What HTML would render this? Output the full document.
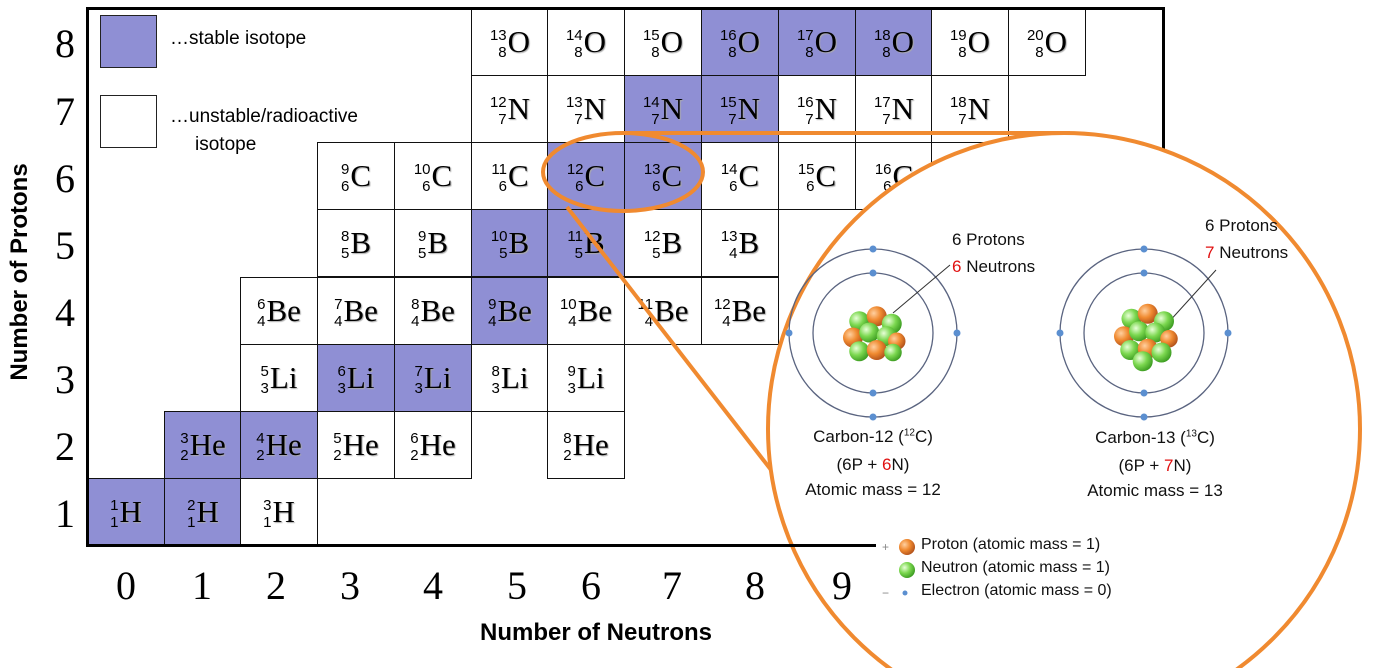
<!DOCTYPE html>
<html><head><meta charset="utf-8">
<style>
body{margin:0;background:#fff;}
#w{position:relative;width:1380px;height:668px;overflow:hidden;background:#fff;font-family:"Liberation Sans",sans-serif;}
.c{position:absolute;width:78px;height:68px;border:1.5px solid #111;box-sizing:border-box;display:flex;align-items:center;justify-content:center;background:#fff;}
.b{background:#8f8fd4;}
.s{display:inline-flex;flex-direction:column;align-items:flex-end;font-size:15px;line-height:17px;margin-right:1px;margin-top:3px;}
.e{font-family:"Liberation Serif",serif;font-size:31px;text-shadow:1px 1px 1px #aaa;}
.yn{position:absolute;left:50px;width:30px;text-align:center;font-family:"Liberation Serif",serif;font-size:40px;}
.xn{position:absolute;top:562px;width:40px;text-align:center;font-family:"Liberation Serif",serif;font-size:40px;}
.t{position:absolute;font-size:17px;color:#111;white-space:nowrap;}
.r{color:#e01010;}
</style></head><body><div id="w">

<!-- legend -->
<div style="position:absolute;left:100px;top:15px;width:57px;height:53px;background:#8f8fd4;border:1.5px solid #222;box-sizing:border-box"></div>
<div style="position:absolute;left:100px;top:95px;width:57px;height:53px;background:#fff;border:1.5px solid #222;box-sizing:border-box"></div>
<div style="position:absolute;left:170px;top:28px;font-size:19px">…stable isotope</div>
<div style="position:absolute;left:170px;top:106px;font-size:19px">…unstable/radioactive</div>
<div style="position:absolute;left:195px;top:134px;font-size:19px">isotope</div>

<!-- row 8 -->
<div class="c" style="left:471px;top:8px"><span class="s"><span>13</span><span>8</span></span><span class="e">O</span></div>
<div class="c" style="left:547px;top:8px"><span class="s"><span>14</span><span>8</span></span><span class="e">O</span></div>
<div class="c" style="left:624px;top:8px"><span class="s"><span>15</span><span>8</span></span><span class="e">O</span></div>
<div class="c b" style="left:701px;top:8px"><span class="s"><span>16</span><span>8</span></span><span class="e">O</span></div>
<div class="c b" style="left:778px;top:8px"><span class="s"><span>17</span><span>8</span></span><span class="e">O</span></div>
<div class="c b" style="left:855px;top:8px"><span class="s"><span>18</span><span>8</span></span><span class="e">O</span></div>
<div class="c" style="left:931px;top:8px"><span class="s"><span>19</span><span>8</span></span><span class="e">O</span></div>
<div class="c" style="left:1008px;top:8px"><span class="s"><span>20</span><span>8</span></span><span class="e">O</span></div>
<!-- row 7 -->
<div class="c" style="left:471px;top:75px"><span class="s"><span>12</span><span>7</span></span><span class="e">N</span></div>
<div class="c" style="left:547px;top:75px"><span class="s"><span>13</span><span>7</span></span><span class="e">N</span></div>
<div class="c b" style="left:624px;top:75px"><span class="s"><span>14</span><span>7</span></span><span class="e">N</span></div>
<div class="c b" style="left:701px;top:75px"><span class="s"><span>15</span><span>7</span></span><span class="e">N</span></div>
<div class="c" style="left:778px;top:75px"><span class="s"><span>16</span><span>7</span></span><span class="e">N</span></div>
<div class="c" style="left:855px;top:75px"><span class="s"><span>17</span><span>7</span></span><span class="e">N</span></div>
<div class="c" style="left:931px;top:75px"><span class="s"><span>18</span><span>7</span></span><span class="e">N</span></div>
<!-- row 6 -->
<div class="c" style="left:317px;top:142px"><span class="s"><span>9</span><span>6</span></span><span class="e">C</span></div>
<div class="c" style="left:394px;top:142px"><span class="s"><span>10</span><span>6</span></span><span class="e">C</span></div>
<div class="c" style="left:471px;top:142px"><span class="s"><span>11</span><span>6</span></span><span class="e">C</span></div>
<div class="c b" style="left:547px;top:142px"><span class="s"><span>12</span><span>6</span></span><span class="e">C</span></div>
<div class="c b" style="left:624px;top:142px"><span class="s"><span>13</span><span>6</span></span><span class="e">C</span></div>
<div class="c" style="left:701px;top:142px"><span class="s"><span>14</span><span>6</span></span><span class="e">C</span></div>
<div class="c" style="left:778px;top:142px"><span class="s"><span>15</span><span>6</span></span><span class="e">C</span></div>
<div class="c" style="left:855px;top:142px"><span class="s"><span>16</span><span>6</span></span><span class="e">C</span></div>
<div class="c" style="left:931px;top:142px;border-bottom:none;border-right:none"></div>
<!-- row 5 -->
<div class="c" style="left:317px;top:209px"><span class="s"><span>8</span><span>5</span></span><span class="e">B</span></div>
<div class="c" style="left:394px;top:209px"><span class="s"><span>9</span><span>5</span></span><span class="e">B</span></div>
<div class="c b" style="left:471px;top:209px"><span class="s"><span>10</span><span>5</span></span><span class="e">B</span></div>
<div class="c b" style="left:547px;top:209px"><span class="s"><span>11</span><span>5</span></span><span class="e">B</span></div>
<div class="c" style="left:624px;top:209px"><span class="s"><span>12</span><span>5</span></span><span class="e">B</span></div>
<div class="c" style="left:701px;top:209px"><span class="s"><span>13</span><span>4</span></span><span class="e">B</span></div>
<!-- row 4 -->
<div class="c" style="left:240px;top:277px"><span class="s"><span>6</span><span>4</span></span><span class="e">Be</span></div>
<div class="c" style="left:317px;top:277px"><span class="s"><span>7</span><span>4</span></span><span class="e">Be</span></div>
<div class="c" style="left:394px;top:277px"><span class="s"><span>8</span><span>4</span></span><span class="e">Be</span></div>
<div class="c b" style="left:471px;top:277px"><span class="s"><span>9</span><span>4</span></span><span class="e">Be</span></div>
<div class="c" style="left:547px;top:277px"><span class="s"><span>10</span><span>4</span></span><span class="e">Be</span></div>
<div class="c" style="left:624px;top:277px"><span class="s"><span>11</span><span>4</span></span><span class="e">Be</span></div>
<div class="c" style="left:701px;top:277px"><span class="s"><span>12</span><span>4</span></span><span class="e">Be</span></div>
<!-- row 3 -->
<div class="c" style="left:240px;top:344px"><span class="s"><span>5</span><span>3</span></span><span class="e">Li</span></div>
<div class="c b" style="left:317px;top:344px"><span class="s"><span>6</span><span>3</span></span><span class="e">Li</span></div>
<div class="c b" style="left:394px;top:344px"><span class="s"><span>7</span><span>3</span></span><span class="e">Li</span></div>
<div class="c" style="left:471px;top:344px"><span class="s"><span>8</span><span>3</span></span><span class="e">Li</span></div>
<div class="c" style="left:547px;top:344px"><span class="s"><span>9</span><span>3</span></span><span class="e">Li</span></div>
<!-- row 2 -->
<div class="c b" style="left:164px;top:411px"><span class="s"><span>3</span><span>2</span></span><span class="e">He</span></div>
<div class="c b" style="left:240px;top:411px"><span class="s"><span>4</span><span>2</span></span><span class="e">He</span></div>
<div class="c" style="left:317px;top:411px"><span class="s"><span>5</span><span>2</span></span><span class="e">He</span></div>
<div class="c" style="left:394px;top:411px"><span class="s"><span>6</span><span>2</span></span><span class="e">He</span></div>
<div class="c" style="left:547px;top:411px"><span class="s"><span>8</span><span>2</span></span><span class="e">He</span></div>
<!-- row 1 -->
<div class="c b" style="left:87px;top:478px"><span class="s"><span>1</span><span>1</span></span><span class="e">H</span></div>
<div class="c b" style="left:164px;top:478px"><span class="s"><span>2</span><span>1</span></span><span class="e">H</span></div>
<div class="c" style="left:240px;top:478px"><span class="s"><span>3</span><span>1</span></span><span class="e">H</span></div>

<!-- axes -->
<div style="position:absolute;left:86px;top:7px;width:3px;height:540px;background:#000"></div>
<div style="position:absolute;left:86px;top:7px;width:1079px;height:3px;background:#000"></div>
<div style="position:absolute;left:1162px;top:7px;width:3px;height:202px;background:#000"></div>

<div class="yn" style="top:20px">8</div>
<div class="yn" style="top:88px">7</div>
<div class="yn" style="top:155px">6</div>
<div class="yn" style="top:222px">5</div>
<div class="yn" style="top:289px">4</div>
<div class="yn" style="top:356px">3</div>
<div class="yn" style="top:423px">2</div>
<div class="yn" style="top:490px">1</div>

<div class="xn" style="left:106px">0</div>
<div class="xn" style="left:182px">1</div>
<div class="xn" style="left:256px">2</div>
<div class="xn" style="left:330px">3</div>
<div class="xn" style="left:413px">4</div>
<div class="xn" style="left:497px">5</div>
<div class="xn" style="left:571px">6</div>
<div class="xn" style="left:652px">7</div>
<div class="xn" style="left:735px">8</div>

<div style="position:absolute;left:480px;top:619px;font-size:24px;font-weight:bold">Number of Neutrons</div>
<div style="position:absolute;left:20px;top:272px;transform:translate(-50%,-50%) rotate(-90deg);font-size:24px;font-weight:bold;white-space:nowrap">Number of Protons</div>

<!-- zoom overlay -->
<svg width="1380" height="668" style="position:absolute;left:0;top:0">
<defs>
<radialGradient id="po" cx="35%" cy="35%" r="70%"><stop offset="0" stop-color="#ffd0a0"/><stop offset="0.5" stop-color="#f08a30"/><stop offset="1" stop-color="#b0501a"/></radialGradient>
<radialGradient id="ne" cx="35%" cy="35%" r="70%"><stop offset="0" stop-color="#e8ffd8"/><stop offset="0.5" stop-color="#7cd850"/><stop offset="1" stop-color="#3a9a20"/></radialGradient>
</defs>
<line x1="567" y1="207" x2="820" y2="533" stroke="#f08a30" stroke-width="4"/>
<line x1="625" y1="133" x2="1070" y2="133" stroke="#f08a30" stroke-width="4"/>
<ellipse cx="623" cy="172" rx="80" ry="39" fill="none" stroke="#f08a30" stroke-width="4"/>
<circle cx="1064" cy="429" r="296" fill="#fff" stroke="#f08a30" stroke-width="4"/>
<g fill="none" stroke="#5a6480" stroke-width="1.3">
<circle cx="873" cy="333" r="84"/><circle cx="873" cy="333" r="60"/>
<circle cx="1144" cy="333" r="84"/><circle cx="1144" cy="333" r="60"/>
</g>
<g fill="#5b8fd0">
<circle cx="873" cy="249" r="3.5"/><circle cx="873" cy="417" r="3.5"/><circle cx="789" cy="333" r="3.5"/><circle cx="957" cy="333" r="3.5"/><circle cx="873" cy="273" r="3.5"/><circle cx="873" cy="393" r="3.5"/>
<circle cx="1144" cy="249" r="3.5"/><circle cx="1144" cy="417" r="3.5"/><circle cx="1060" cy="333" r="3.5"/><circle cx="1228" cy="333" r="3.5"/><circle cx="1144" cy="273" r="3.5"/><circle cx="1144" cy="393" r="3.5"/>
</g>
<line x1="893" y1="313" x2="950" y2="265" stroke="#333" stroke-width="1"/>
<line x1="1167" y1="324" x2="1216" y2="270" stroke="#333" stroke-width="1"/>
<g transform="translate(873,335) scale(1.25) translate(-873,-335)">
<circle cx="862" cy="324" r="8" fill="url(#ne)"/><circle cx="876" cy="320" r="8" fill="url(#po)"/><circle cx="888" cy="326" r="8" fill="url(#ne)"/>
<circle cx="857" cy="337" r="8" fill="url(#po)"/><circle cx="870" cy="333" r="8" fill="url(#ne)"/><circle cx="884" cy="336" r="8" fill="url(#ne)"/><circle cx="892" cy="340" r="7" fill="url(#po)"/>
<circle cx="862" cy="348" r="8" fill="url(#ne)"/><circle cx="876" cy="347" r="8" fill="url(#po)"/><circle cx="889" cy="349" r="7" fill="url(#ne)"/>
</g>
<g transform="translate(1144,335) scale(1.25) translate(-1144,-335)">
<circle cx="1134" cy="322" r="8" fill="url(#ne)"/><circle cx="1147" cy="318" r="8" fill="url(#po)"/><circle cx="1160" cy="324" r="8" fill="url(#ne)"/>
<circle cx="1128" cy="336" r="8" fill="url(#po)"/><circle cx="1140" cy="332" r="8" fill="url(#ne)"/><circle cx="1153" cy="333" r="8" fill="url(#ne)"/><circle cx="1164" cy="338" r="7" fill="url(#po)"/>
<circle cx="1133" cy="347" r="8" fill="url(#ne)"/><circle cx="1147" cy="346" r="8" fill="url(#po)"/><circle cx="1158" cy="349" r="8" fill="url(#ne)"/><circle cx="1143" cy="356" r="8" fill="url(#ne)"/>
</g>
<circle cx="907" cy="547" r="8" fill="url(#po)"/>
<circle cx="907" cy="570" r="8" fill="url(#ne)"/>
<circle cx="905" cy="593" r="2.5" fill="#5b8fd0"/>
<text x="882" y="551" font-family="Liberation Sans" font-size="12" fill="#888">+</text>
<text x="882" y="597" font-family="Liberation Sans" font-size="12" fill="#888">−</text>
</svg>

<div style="position:absolute;left:86px;top:544px;width:790px;height:3px;background:#000"></div>
<div class="xn" style="left:822px">9</div>

<div class="t" style="left:952px;top:230px">6 Protons</div>
<div class="t" style="left:952px;top:257px"><span class="r">6</span> Neutrons</div>
<div class="t" style="left:1205px;top:216px">6 Protons</div>
<div class="t" style="left:1205px;top:243px"><span class="r">7</span> Neutrons</div>

<div class="t" style="left:873px;top:427px;transform:translateX(-50%)">Carbon-12 (<sup style="font-size:10px">12</sup>C)</div>
<div class="t" style="left:873px;top:455px;transform:translateX(-50%)">(6P + <span class="r">6</span>N)</div>
<div class="t" style="left:873px;top:480px;transform:translateX(-50%)">Atomic mass = 12</div>
<div class="t" style="left:1155px;top:428px;transform:translateX(-50%)">Carbon-13 (<sup style="font-size:10px">13</sup>C)</div>
<div class="t" style="left:1155px;top:456px;transform:translateX(-50%)">(6P + <span class="r">7</span>N)</div>
<div class="t" style="left:1155px;top:481px;transform:translateX(-50%)">Atomic mass = 13</div>

<div class="t" style="left:921px;top:536px;font-size:16px">Proton (atomic mass = 1)</div>
<div class="t" style="left:921px;top:559px;font-size:16px">Neutron (atomic mass = 1)</div>
<div class="t" style="left:921px;top:582px;font-size:16px">Electron (atomic mass = 0)</div>

</div></body></html>
